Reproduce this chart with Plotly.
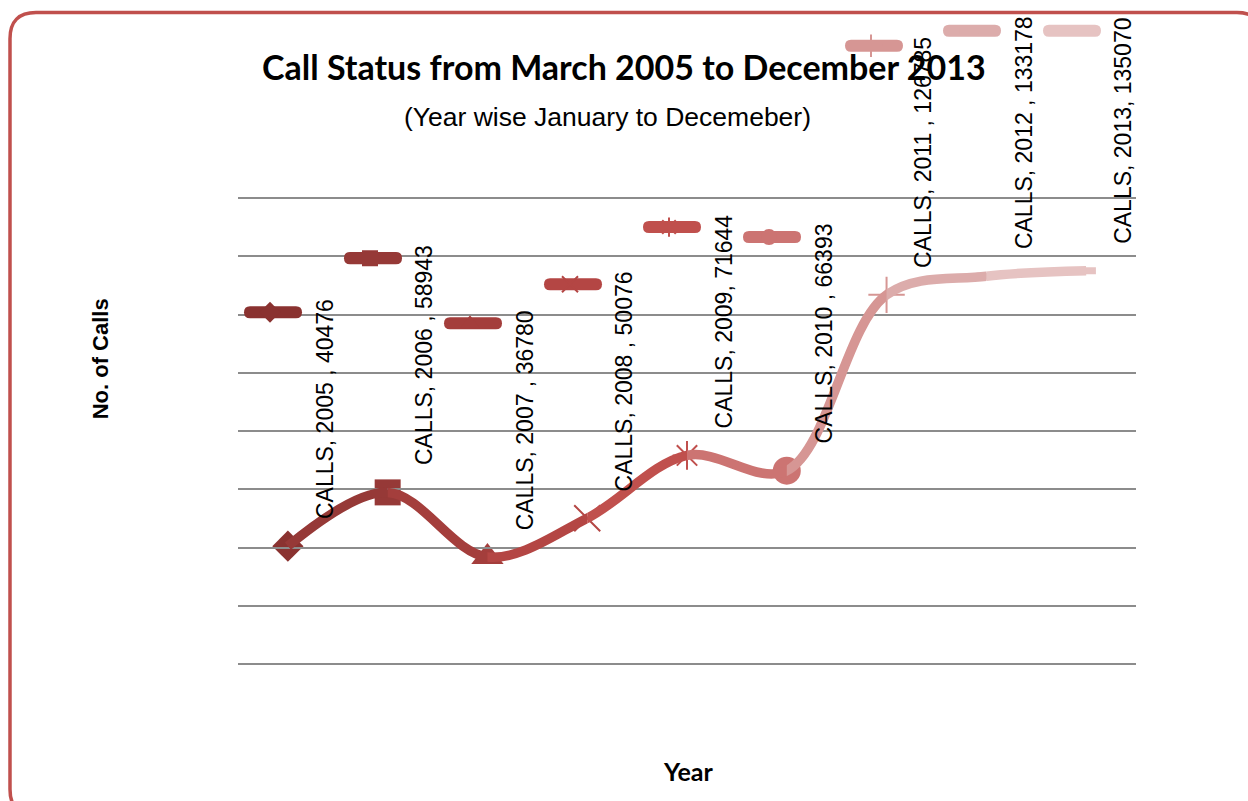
import plotly.graph_objects as go

# ---------------- data ----------------
years = [2005, 2006, 2007, 2008, 2009, 2010, 2011, 2012, 2013]
calls = [40476, 58943, 36780, 50076, 71644, 66393, 126785, 133178, 135070]
label_text = ["CALLS, 2005 , 40476", "CALLS, 2006 , 58943", "CALLS, 2007 , 36780",
              "CALLS, 2008 , 50076", "CALLS, 2009, 71644", "CALLS, 2010 , 66393",
              "CALLS, 2011 , 126785", "CALLS, 2012 , 133178", "CALLS, 2013, 135070"]
point_colors = ["#8a3230", "#963937", "#a43e3c", "#b44644", "#c0504d",
                "#cc7472", "#d69694", "#dcacab", "#e6c3c2"]
symbols = ["diamond", "square", "triangle-up", "x-thin-open", "asterisk-open",
           "circle", "cross-thin-open", "line-ew-open", "line-ew-open"]
sizes = [24, 26, 28, 26, 24, 28, 26, 14, 14]
# legend swatch centres (pixel positions in the page)
legend_px = [(273, 313), (373, 259), (473, 324), (573, 285), (672, 228),
             (772, 238), (874, 47), (972, 32), (1072, 32)]

W, H = 1248, 801
L, R, T, B = 238, 1136, 198, 664


def px2paper(px, py):
    return (px - L) / (R - L), (B - py) / (B - T)


def P(px, py):
    a, b = px2paper(px, py)
    return f"{a:.5f},{b:.5f}"


x0, x1 = 2004.5, 2013.5
y_max = 160000
fig = go.Figure()
layout_extra = {}

# smooth line, coloured per segment by clipping the same spline to per-segment x-domains
n = len(years)
for s in range(n - 1):
    left = years[s] if s > 0 else x0
    right = years[s + 1] if s < n - 2 else x1
    layout_extra[f"xaxis{s + 2}"] = dict(
        domain=[(left - x0) / (x1 - x0), (right - x0) / (x1 - x0)],
        range=[left, right], visible=False, anchor="y", showgrid=False,
        zeroline=False, fixedrange=True)
    fig.add_trace(go.Scatter(
        x=years, y=calls, mode="lines", xaxis=f"x{s + 2}", yaxis="y",
        line=dict(shape="spline", smoothing=1, width=9.5, color=point_colors[s + 1],
                  simplify=False),
        showlegend=False, hoverinfo="skip", cliponaxis=True))

# marker axis overlaid on top of everything
mk_ax = n + 1
layout_extra[f"xaxis{mk_ax}"] = dict(overlaying="x", range=[x0, x1], visible=False,
                                    anchor="y", showgrid=False, zeroline=False,
                                    fixedrange=True)

shapes = []
for i in range(n):
    lx, ly = px2paper(*legend_px[i])
    open_sym = symbols[i].endswith("-open")
    mlw = (7 if symbols[i] == "line-ew-open" else 2) if open_sym else 0
    key = "legend" if i == 0 else f"legend{i + 1}"
    fig.add_trace(go.Scatter(
        x=[years[i]], y=[calls[i]], mode="markers", name=" ",
        xaxis=f"x{mk_ax}", yaxis="y", legend=key,
        marker=dict(symbol=symbols[i], size=sizes[i], color=point_colors[i],
                    line=dict(color=point_colors[i], width=mlw)),
        showlegend=True, cliponaxis=False))
    layout_extra[key] = dict(x=lx, y=ly, xanchor="center", yanchor="middle",
                             bgcolor="rgba(0,0,0,0)", borderwidth=0,
                             itemwidth=30, font=dict(size=2), tracegroupgap=0,
                             itemclick=False, itemdoubleclick=False)
    # rounded legend key bar
    cx, cy = legend_px[i]
    hw, hh = 29, 6
    path = (f"M{P(cx - hw + hh, cy - hh)} L{P(cx + hw - hh, cy - hh)} "
            f"Q{P(cx + hw, cy - hh)} {P(cx + hw, cy)} Q{P(cx + hw, cy + hh)} {P(cx + hw - hh, cy + hh)} "
            f"L{P(cx - hw + hh, cy + hh)} Q{P(cx - hw, cy + hh)} {P(cx - hw, cy)} "
            f"Q{P(cx - hw, cy - hh)} {P(cx - hw + hh, cy - hh)} Z")
    shapes.append(dict(type="path", path=path, xref="paper", yref="paper",
                       fillcolor=point_colors[i], line=dict(width=0), layer="above"))

annotations = []
for i in range(n):
    annotations.append(dict(
        x=years[i], y=calls[i], xref="x", yref="y", text=label_text[i],
        textangle=-90, showarrow=False, xanchor="center", yanchor="bottom",
        xshift=37, yshift=25,
        font=dict(family="Liberation Sans, Arial", size=23, color="#000000")))

tx, ty = px2paper(624, 68)
annotations.append(dict(x=tx, y=ty, xref="paper", yref="paper",
                        text="<b>Call Status from March 2005 to December 2013</b>",
                        showarrow=False, xanchor="center", yanchor="middle",
                        font=dict(family="Lato", size=34, color="#000000")))
sx, sy = px2paper(607, 118)
annotations.append(dict(x=sx, y=sy, xref="paper", yref="paper",
                        text="(Year wise January to Decemeber)",
                        showarrow=False, xanchor="center", yanchor="middle",
                        font=dict(family="Liberation Sans, Arial", size=26.5, color="#000000")))
yx, yy = px2paper(100, 360)
annotations.append(dict(x=yx, y=yy, xref="paper", yref="paper", text="<b>No. of Calls</b>",
                        textangle=-90, showarrow=False, xanchor="center", yanchor="middle",
                        font=dict(family="Liberation Sans, Arial", size=22, color="#000000")))
xx, xy = px2paper(688, 771)
annotations.append(dict(x=xx, y=xy, xref="paper", yref="paper", text="<b>Year</b>",
                        showarrow=False, xanchor="center", yanchor="middle",
                        font=dict(family="Lato", size=25, color="#000000")))

# rounded border
bl, bt, br, bb, r = 10, 14, 1263, 815, 26
border_path = (f"M{P(bl, bt + r)} Q{P(bl, bt)} {P(bl + r, bt)} L{P(br - r, bt)} "
               f"Q{P(br, bt)} {P(br, bt + r)} L{P(br, bb - r)} Q{P(br, bb)} {P(br - r, bb)} "
               f"L{P(bl + r, bb)} Q{P(bl, bb)} {P(bl, bb - r)} Z")
shapes.append(dict(type="path", path=border_path, xref="paper", yref="paper",
                   line=dict(color="#c0504d", width=3.5), layer="above"))

fig.update_layout(
    width=W, height=H,
    margin=dict(l=L, r=W - R, t=T - 1, b=H - B, pad=0),
    paper_bgcolor="white", plot_bgcolor="rgba(0,0,0,0)",
    xaxis=dict(range=[x0, x1], domain=[0, 1], showgrid=False, zeroline=False,
               showticklabels=False, ticks="", showline=False, fixedrange=True),
    yaxis=dict(range=[0, y_max * 1.0025], tick0=0, dtick=20000, showticklabels=False, ticks="",
               showgrid=True, gridcolor="#8c8c8c", gridwidth=1.5,
               zeroline=True, zerolinecolor="#8c8c8c", zerolinewidth=1.5,
               showline=False, anchor="x", fixedrange=True),
    annotations=annotations,
    shapes=shapes,
    showlegend=True,
    **layout_extra,
)

fig.write_html("out.html", config={"displayModeBar": False})
